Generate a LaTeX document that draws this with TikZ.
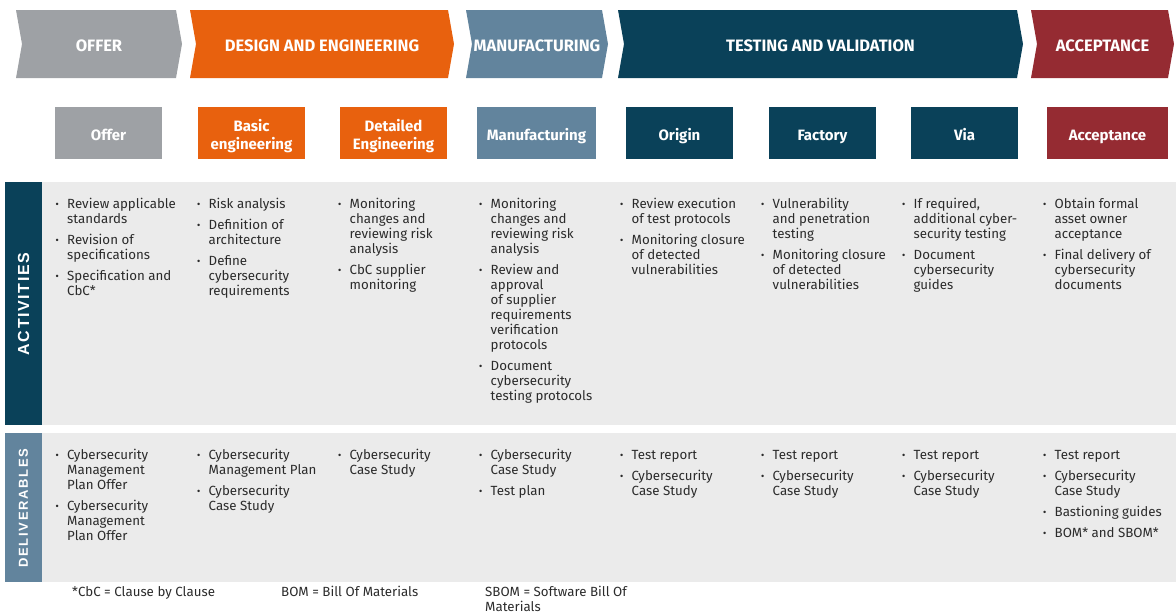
\documentclass[tikz,border=0pt]{standalone}
\usepackage{fontspec}
\setmainfont{Fira Sans}
\newfontfamily\actfont[LetterSpace=10]{Liberation Sans}
\newfontfamily\delfont[LetterSpace=13]{Liberation Sans}
\definecolor{cgray}{HTML}{9EA1A5}
\definecolor{corange}{HTML}{E8610E}
\definecolor{cblue}{HTML}{62849D}
\definecolor{cteal}{HTML}{0A4159}
\definecolor{cred}{HTML}{952B32}
\definecolor{cpanel}{HTML}{EBEBEB}
\definecolor{ctext}{HTML}{2B2B2B}
\newcommand\bul{\strut\llap{\makebox[0pt][c]{\textbf{·}}\hspace{10pt}}}
\newcommand\chevron[5]{%
  \fill[#3] (#1,10) -- (#2,10) -- ({#2+6},44) -- (#2,78) -- (#1,78) -- ({#1+6},44) -- cycle;
  \node[chevlabel] (#4) at ({(#1+#2)/2+3},51.5) {#5};}
\tikzset{
  chevlabel/.style={anchor=base, inner sep=0pt, text=white, font=\bfseries\fontsize{16.5}{18}\selectfont},
  phasebox/.style={fill=#1, minimum width=107pt, minimum height=52pt, inner sep=0pt},
  boxlabel/.style={anchor=north, inner sep=0pt, align=center, text=white, font=\bfseries\fontsize{15}{17}\selectfont},
  col/.style={anchor=north west, align=left, inner sep=0pt, text=ctext, font=\fontsize{13.3}{15}\selectfont},
  sidelabel/.style={rotate=90, inner sep=0pt, text=white},
}
\begin{document}
\begin{tikzpicture}[x=1pt,y=-1pt]
\useasboundingbox (0,0) rectangle (1176,614);
% chevrons
\chevron{16}{176}{cgray}{p1}{OFFER}
\chevron{190}{448}{corange}{p2}{DESIGN AND ENGINEERING}
\chevron{466}{602}{cblue}{p3}{MANUFACTURING}
\chevron{618}{1017}{cteal}{p4}{TESTING AND VALIDATION}
\chevron{1031}{1168}{cred}{p5}{ACCEPTANCE}
% phase boxes
\node[phasebox=cgray] (b1) at (108.5,132.5) {};
\node[phasebox=corange] (b2) at (251.5,132.5) {};
\node[phasebox=corange] (b3) at (393.5,132.5) {};
\node[phasebox=cblue, minimum width=119pt] (b4) at (536.5,132.5) {};
\node[phasebox=cteal] (b5) at (679.5,132.5) {};
\node[phasebox=cteal] (b6) at (822.5,132.5) {};
\node[phasebox=cteal] (b7) at (964.5,132.5) {};
\node[phasebox=cred, minimum width=121pt] (b8) at (1107.5,132.5) {};
\node[boxlabel] (l1) at (108.5,128.1) {\strut Offer};
\node[boxlabel] (l2) at (251.5,119.1) {\strut Basic\\engineering};
\node[boxlabel] (l3) at (393.5,119.1) {\strut Detailed\\Engineering};
\node[boxlabel] (l4) at (536.5,128.1) {\strut Manufacturing};
\node[boxlabel] (l5) at (679.5,128.1) {\strut Origin};
\node[boxlabel] (l6) at (822.5,128.1) {\strut Factory};
\node[boxlabel] (l7) at (964.5,128.1) {\strut Via};
\node[boxlabel] (l8) at (1107.5,128.1) {\strut Acceptance};
% panels
\fill[cpanel] (5,182) rectangle (1176,425);
\fill[cteal] (5,182) rectangle (42,425);
\fill[cpanel] (5,433) rectangle (1176,582);
\fill[cblue] (5,433) rectangle (42,582);
\node[sidelabel, font=\actfont\bfseries\fontsize{16}{18}\selectfont] (act) at (23.5,304) {ACTIVITIES};
\node[sidelabel, font=\delfont\bfseries\fontsize{13}{15}\selectfont] (del) at (23.5,508) {DELIVERABLES};
% activities
\node[col] (a1) at (67,197.5) {\bul Review applicable\\ standards\\[6pt]\bul Revision of\\ specifications\\[6pt]\bul Specification and\\ CbC*};
\node[col] (a2) at (208.5,197.5) {\bul Risk analysis\\[6pt]\bul Definition of\\ architecture\\[6pt]\bul Define\\ cybersecurity\\ requirements};
\node[col] (a3) at (349.5,197.5) {\bul Monitoring\\ changes and\\ reviewing risk\\ analysis\\[6pt]\bul CbC supplier\\ monitoring};
\node[col] (a4) at (490.5,197.5) {\bul Monitoring\\ changes and\\ reviewing risk\\ analysis\\[6pt]\bul Review and\\ approval\\ of supplier\\ requirements\\ verification\\ protocols\\[6pt]\bul Document\\ cybersecurity\\ testing protocols};
\node[col] (a5) at (631.5,197.5) {\bul Review execution\\ of test protocols\\[6pt]\bul Monitoring closure\\ of detected\\ vulnerabilities};
\node[col] (a6) at (772.5,197.5) {\bul Vulnerability\\ and penetration\\ testing\\[6pt]\bul Monitoring closure\\ of detected\\ vulnerabilities};
\node[col] (a7) at (913.5,197.5) {\bul If required,\\ additional cyber-\\ security testing\\[6pt]\bul Document\\ cybersecurity\\ guides};
\node[col] (a8) at (1054.5,197.5) {\bul Obtain formal\\ asset owner\\ acceptance\\[6pt]\bul Final delivery of\\ cybersecurity\\ documents};
% deliverables
\node[col] (d1) at (67,448.5) {\bul Cybersecurity\\ Management\\ Plan Offer\\[6pt]\bul Cybersecurity\\ Management\\ Plan Offer};
\node[col] (d2) at (208.5,448.5) {\bul Cybersecurity\\ Management Plan\\[6pt]\bul Cybersecurity\\ Case Study};
\node[col] (d3) at (349.5,448.5) {\bul Cybersecurity\\ Case Study};
\node[col] (d4) at (490.5,448.5) {\bul Cybersecurity\\ Case Study\\[6pt]\bul Test plan};
\node[col] (d5) at (631.5,448.5) {\bul Test report\\[6pt]\bul Cybersecurity\\ Case Study};
\node[col] (d6) at (772.5,448.5) {\bul Test report\\[6pt]\bul Cybersecurity\\ Case Study};
\node[col] (d7) at (913.5,448.5) {\bul Test report\\[6pt]\bul Cybersecurity\\ Case Study};
\node[col] (d8) at (1054.5,448.5) {\bul Test report\\[6pt]\bul Cybersecurity\\ Case Study\\[6pt]\bul Bastioning guides\\[6pt]\bul BOM* and SBOM*};
% footnotes
\node[col] (f1) at (72,585.5) {\strut *CbC = Clause by Clause};
\node[col] (f2) at (281,585.5) {\strut BOM = Bill Of Materials};
\node[col] (f3) at (485,585.5) {\strut SBOM = Software Bill Of\\Materials};
\end{tikzpicture}
\end{document}
